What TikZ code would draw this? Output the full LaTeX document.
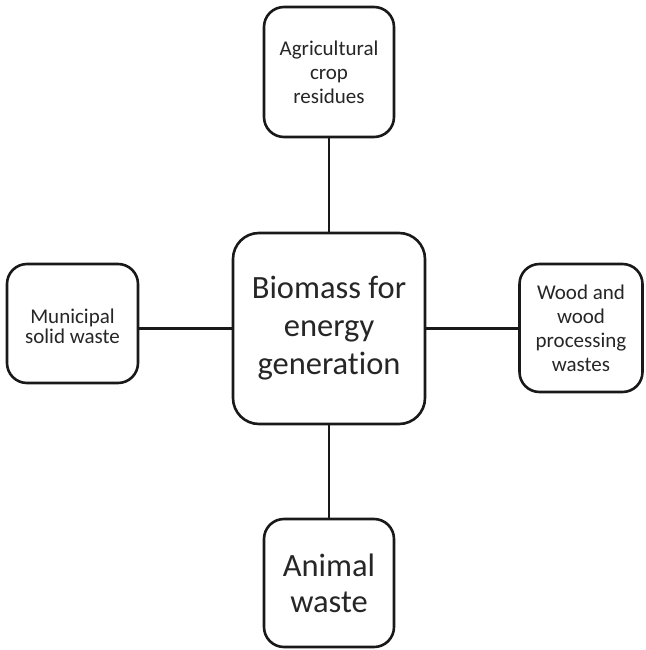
\documentclass[tikz,border=0pt]{standalone}
\usepackage{fontspec}
\setmainfont{Carlito}[Ligatures=NoCommon]
\begin{document}
\begin{tikzpicture}[x=1pt,y=-1pt,
  box/.style={draw=black!90, line width=2.6pt, rounded corners=20pt, align=center,
    inner sep=0pt, fill=white, text=black!85},
  small/.style={box, font=\fontsize{21}{24}\selectfont},
  big/.style={box, font=\fontsize{32.5}{36}\selectfont},
  hub/.style={box, rounded corners=26pt, font=\fontsize{32.5}{38}\selectfont},
  link/.style={draw=black!90, line width=2.6pt}]
\useasboundingbox (0,0) rectangle (645,650);
\node[hub, minimum width=192pt, minimum height=191pt] (hub) at (329,328.5)
  {Biomass for\\energy\\generation};
\node[small, minimum width=130pt, minimum height=130pt] (agri) at (329,72)
  {Agricultural\\crop\\residues};
\node[small, minimum width=131pt, minimum height=119pt, text depth=0pt] (muni) at (72.5,323.5)
  {\raisebox{-6pt}{\shortstack{Municipal\\[-1pt]solid waste}}};
\node[small, minimum width=123pt, minimum height=128pt] (wood) at (581,328)
  {Wood and\\wood\\processing\\wastes};
\node[big, minimum width=130pt, minimum height=128pt] (anim) at (329,583)
  {Animal\\waste};
\draw[link] (agri.south) -- (hub.north);
\draw[link] (hub.south) -- (anim.north);
\draw[link] (hub.west) -- (hub.west -| muni.east);
\draw[link] (hub.east) -- (hub.east -| wood.west);
\end{tikzpicture}
\end{document}
